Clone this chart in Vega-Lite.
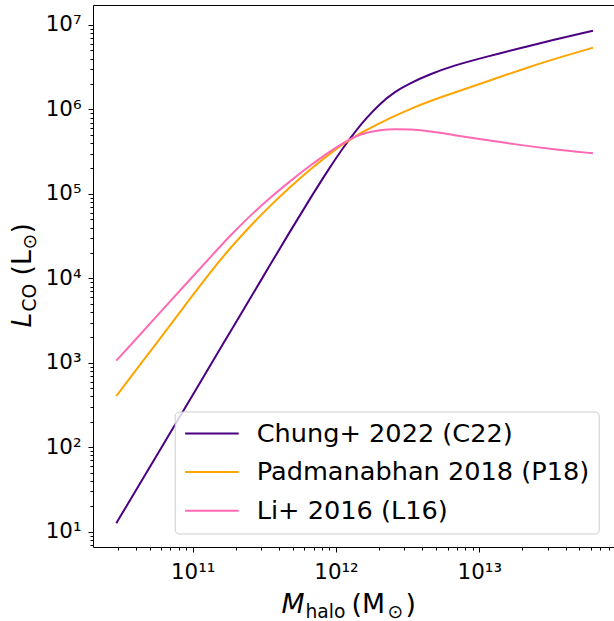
{
  "$schema": "https://vega.github.io/schema/vega-lite/v6.json",
  "width": 521,
  "height": 542,
  "autosize": {"type": "none"},
  "padding": {"left": 93, "top": 5, "right": 0, "bottom": 74},
  "background": "white",
  "resolve": {"axis": {"x": "independent", "y": "independent"}},
  "layer": [
    {
      "data": {
        "values": [
          {"model": "Chung+ 2022 (C22)", "M": 2.93e10, "L": 12.6},
          {"model": "Chung+ 2022 (C22)", "M": 4.287e10, "L": 37.2},
          {"model": "Chung+ 2022 (C22)", "M": 6.944e10, "L": 147.1},
          {"model": "Chung+ 2022 (C22)", "M": 9.576e10, "L": 367.7},
          {"model": "Chung+ 2022 (C22)", "M": 1.386e11, "L": 1056},
          {"model": "Chung+ 2022 (C22)", "M": 1.821e11, "L": 2297},
          {"model": "Chung+ 2022 (C22)", "M": 2.511e11, "L": 5741},
          {"model": "Chung+ 2022 (C22)", "M": 3.462e11, "L": 14353},
          {"model": "Chung+ 2022 (C22)", "M": 4.775e11, "L": 35870},
          {"model": "Chung+ 2022 (C22)", "M": 6.586e11, "L": 87750},
          {"model": "Chung+ 2022 (C22)", "M": 9.081e11, "L": 208200},
          {"model": "Chung+ 2022 (C22)", "M": 1.156e12, "L": 379300},
          {"model": "Chung+ 2022 (C22)", "M": 1.357e12, "L": 540800},
          {"model": "Chung+ 2022 (C22)", "M": 1.594e12, "L": 760300},
          {"model": "Chung+ 2022 (C22)", "M": 2.028e12, "L": 1176000},
          {"model": "Chung+ 2022 (C22)", "M": 2.58e12, "L": 1631000},
          {"model": "Chung+ 2022 (C22)", "M": 3.284e12, "L": 2046000},
          {"model": "Chung+ 2022 (C22)", "M": 4.529e12, "L": 2615000},
          {"model": "Chung+ 2022 (C22)", "M": 6.554e12, "L": 3296000},
          {"model": "Chung+ 2022 (C22)", "M": 1.114e13, "L": 4203000},
          {"model": "Chung+ 2022 (C22)", "M": 1.923e13, "L": 5312000},
          {"model": "Chung+ 2022 (C22)", "M": 3.268e13, "L": 6644000},
          {"model": "Chung+ 2022 (C22)", "M": 6.215e13, "L": 8560000},

          {"model": "Padmanabhan 2018 (P18)", "M": 2.93e10, "L": 404.5},
          {"model": "Padmanabhan 2018 (P18)", "M": 4.287e10, "L": 949.5},
          {"model": "Padmanabhan 2018 (P18)", "M": 6.944e10, "L": 2750},
          {"model": "Padmanabhan 2018 (P18)", "M": 9.576e10, "L": 5741},
          {"model": "Padmanabhan 2018 (P18)", "M": 1.386e11, "L": 13000},
          {"model": "Padmanabhan 2018 (P18)", "M": 1.821e11, "L": 22700},
          {"model": "Padmanabhan 2018 (P18)", "M": 2.511e11, "L": 41500},
          {"model": "Padmanabhan 2018 (P18)", "M": 3.462e11, "L": 72000},
          {"model": "Padmanabhan 2018 (P18)", "M": 4.775e11, "L": 120700},
          {"model": "Padmanabhan 2018 (P18)", "M": 6.586e11, "L": 194000},
          {"model": "Padmanabhan 2018 (P18)", "M": 9.081e11, "L": 300900},
          {"model": "Padmanabhan 2018 (P18)", "M": 1.156e12, "L": 402900},
          {"model": "Padmanabhan 2018 (P18)", "M": 1.357e12, "L": 478400},
          {"model": "Padmanabhan 2018 (P18)", "M": 1.594e12, "L": 563300},
          {"model": "Padmanabhan 2018 (P18)", "M": 2.028e12, "L": 691000},
          {"model": "Padmanabhan 2018 (P18)", "M": 2.58e12, "L": 838800},
          {"model": "Padmanabhan 2018 (P18)", "M": 3.284e12, "L": 1012000},
          {"model": "Padmanabhan 2018 (P18)", "M": 4.529e12, "L": 1259000},
          {"model": "Padmanabhan 2018 (P18)", "M": 6.554e12, "L": 1566000},
          {"model": "Padmanabhan 2018 (P18)", "M": 1.114e13, "L": 2122000},
          {"model": "Padmanabhan 2018 (P18)", "M": 1.923e13, "L": 2932000},
          {"model": "Padmanabhan 2018 (P18)", "M": 3.268e13, "L": 3925000},
          {"model": "Padmanabhan 2018 (P18)", "M": 6.215e13, "L": 5385000},

          {"model": "Li+ 2016 (L16)", "M": 2.93e10, "L": 1059},
          {"model": "Li+ 2016 (L16)", "M": 4.287e10, "L": 2157},
          {"model": "Li+ 2016 (L16)", "M": 6.944e10, "L": 5305},
          {"model": "Li+ 2016 (L16)", "M": 9.576e10, "L": 9692},
          {"model": "Li+ 2016 (L16)", "M": 1.386e11, "L": 19270},
          {"model": "Li+ 2016 (L16)", "M": 1.821e11, "L": 31900},
          {"model": "Li+ 2016 (L16)", "M": 2.511e11, "L": 55050},
          {"model": "Li+ 2016 (L16)", "M": 3.462e11, "L": 89900},
          {"model": "Li+ 2016 (L16)", "M": 4.775e11, "L": 141400},
          {"model": "Li+ 2016 (L16)", "M": 6.586e11, "L": 216400},
          {"model": "Li+ 2016 (L16)", "M": 9.081e11, "L": 320300},
          {"model": "Li+ 2016 (L16)", "M": 1.156e12, "L": 412800},
          {"model": "Li+ 2016 (L16)", "M": 1.357e12, "L": 475800},
          {"model": "Li+ 2016 (L16)", "M": 1.594e12, "L": 527800},
          {"model": "Li+ 2016 (L16)", "M": 2.028e12, "L": 572700},
          {"model": "Li+ 2016 (L16)", "M": 2.58e12, "L": 588400},
          {"model": "Li+ 2016 (L16)", "M": 3.284e12, "L": 580500},
          {"model": "Li+ 2016 (L16)", "M": 4.529e12, "L": 552800},
          {"model": "Li+ 2016 (L16)", "M": 6.554e12, "L": 498400},
          {"model": "Li+ 2016 (L16)", "M": 1.114e13, "L": 434800},
          {"model": "Li+ 2016 (L16)", "M": 1.923e13, "L": 379400},
          {"model": "Li+ 2016 (L16)", "M": 3.268e13, "L": 337500},
          {"model": "Li+ 2016 (L16)", "M": 6.215e13, "L": 302600}
        ]
      },
      "mark": {"type": "line", "strokeWidth": 2, "interpolate": "basis", "clip": true},
      "encoding": {
        "x": {
          "field": "M", "type": "quantitative",
          "scale": {"type": "log", "domain": [2.015e10, 8.71e13], "nice": false},
          "axis": {
            "orient": "bottom",
            "values": [1e11, 1e12, 1e13],
            "labelExpr": "datum.value >= 1e13 ? '10¹³' : datum.value >= 1e12 ? '10¹²' : '10¹¹'",
            "labelFontSize": 21.4, "labelBaseline": "alphabetic", "labelPadding": 26,
            "labelOverlap": false, "labelFlush": false, "labelBound": false,
            "tickSize": 5, "domain": true,
            "title": "M", "titleFontStyle": "italic", "titleFontSize": 26.7,
            "titleAlign": "left", "titleBaseline": "alphabetic", "titleAngle": 0,
            "titleX": 188, "titleY": 65
          }
        },
        "y": {
          "field": "L", "type": "quantitative",
          "scale": {"type": "log", "domain": [6.59, 1.725e7], "nice": false},
          "axis": {
            "orient": "left",
            "values": [10, 100, 1000, 10000, 100000, 1000000, 10000000],
            "labelExpr": "datum.value >= 1e7 ? '10⁷' : datum.value >= 1e6 ? '10⁶' : datum.value >= 1e5 ? '10⁵' : datum.value >= 1e4 ? '10⁴' : datum.value >= 1e3 ? '10³' : datum.value >= 1e2 ? '10²' : '10¹'",
            "labelFontSize": 21.4, "labelPadding": 7, "labelBaseline": "middle",
            "labelOverlap": false, "labelFlush": false, "labelBound": false,
            "tickSize": 5, "domain": true,
            "title": "L", "titleFontStyle": "italic", "titleFontSize": 26.7,
            "titleAlign": "left", "titleBaseline": "alphabetic", "titleAngle": 270,
            "titleX": -63, "titleY": 322
          }
        },
        "color": {
          "field": "model", "type": "nominal",
          "scale": {
            "domain": ["Chung+ 2022 (C22)", "Padmanabhan 2018 (P18)", "Li+ 2016 (L16)"],
            "range": ["#4b0082", "#ffa500", "#ff69b4"]
          },
          "legend": {
            "orient": "none", "legendX": 81.7, "legendY": 406.5,
            "title": null, "padding": 9, "rowPadding": 11.6,
            "strokeColor": "#cccccc", "fillColor": "rgba(255,255,255,0.8)", "cornerRadius": 4,
            "symbolType": "M-1,0H3.62", "symbolSize": 538, "symbolStrokeWidth": 2,
            "symbolFillColor": "transparent",
            "labelFontSize": 25.6, "labelFont": "DejaVu Sans", "labelColor": "#000",
            "labelOffset": 47, "labelLimit": 0
          }
        }
      }
    },
    {
      "data": {"values": []},
      "mark": {"type": "point"},
      "encoding": {
        "x": {
          "field": "M", "type": "quantitative", "scale": {"type": "log"},
          "axis": {
            "orient": "bottom",
            "values": [3e10, 4e10, 5e10, 6e10, 7e10, 8e10, 9e10, 2e11, 3e11, 4e11, 5e11, 6e11, 7e11, 8e11, 9e11, 2e12, 3e12, 4e12, 5e12, 6e12, 7e12, 8e12, 9e12, 2e13, 3e13, 4e13, 5e13, 6e13, 7e13, 8e13],
            "labels": false, "domain": false, "tickSize": 3,
            "title": "halo", "titleFontSize": 18.7,
            "titleAlign": "left", "titleBaseline": "alphabetic", "titleAngle": 0,
            "titleX": 212, "titleY": 70
          }
        },
        "y": {
          "field": "L", "type": "quantitative", "scale": {"type": "log"},
          "axis": {
            "orient": "left",
            "values": [7, 8, 9, 20, 30, 40, 50, 60, 70, 80, 90, 200, 300, 400, 500, 600, 700, 800, 900, 2000, 3000, 4000, 5000, 6000, 7000, 8000, 9000, 20000, 30000, 40000, 50000, 60000, 70000, 80000, 90000, 200000, 300000, 400000, 500000, 600000, 700000, 800000, 900000, 2000000, 3000000, 4000000, 5000000, 6000000, 7000000, 8000000, 9000000],
            "labels": false, "domain": false, "tickSize": 3,
            "title": "CO", "titleFontSize": 18.7,
            "titleAlign": "left", "titleBaseline": "alphabetic", "titleAngle": 270,
            "titleX": -58, "titleY": 306
          }
        }
      }
    },
    {
      "data": {"values": []},
      "mark": {"type": "point"},
      "encoding": {
        "x": {
          "field": "M", "type": "quantitative", "scale": {"type": "log"},
          "axis": {
            "orient": "bottom", "values": [], "labels": false, "ticks": false, "domain": false,
            "title": "(M", "titleFontSize": 26.7,
            "titleAlign": "left", "titleBaseline": "alphabetic", "titleAngle": 0,
            "titleX": 258, "titleY": 65
          }
        },
        "y": {
          "field": "L", "type": "quantitative", "scale": {"type": "log"},
          "axis": {
            "orient": "left", "values": [], "labels": false, "ticks": false, "domain": false,
            "title": "(L", "titleFontSize": 26.7,
            "titleAlign": "left", "titleBaseline": "alphabetic", "titleAngle": 270,
            "titleX": -63, "titleY": 270
          }
        }
      }
    },
    {
      "data": {"values": []},
      "mark": {"type": "point"},
      "encoding": {
        "x": {
          "field": "M", "type": "quantitative", "scale": {"type": "log"},
          "axis": {
            "orient": "bottom", "values": [], "labels": false, "ticks": false, "domain": false,
            "title": "⊙", "titleFontSize": 18.7,
            "titleAlign": "left", "titleBaseline": "alphabetic", "titleAngle": 0,
            "titleX": 294, "titleY": 70
          }
        },
        "y": {
          "field": "L", "type": "quantitative", "scale": {"type": "log"},
          "axis": {
            "orient": "left", "values": [], "labels": false, "ticks": false, "domain": false,
            "title": "⊙", "titleFontSize": 18.7,
            "titleAlign": "left", "titleBaseline": "alphabetic", "titleAngle": 270,
            "titleX": -58, "titleY": 244
          }
        }
      }
    },
    {
      "data": {"values": []},
      "mark": {"type": "point"},
      "encoding": {
        "x": {
          "field": "M", "type": "quantitative", "scale": {"type": "log"},
          "axis": {
            "orient": "bottom", "values": [], "labels": false, "ticks": false, "domain": false,
            "title": ")", "titleFontSize": 26.7,
            "titleAlign": "left", "titleBaseline": "alphabetic", "titleAngle": 0,
            "titleX": 312, "titleY": 65
          }
        },
        "y": {
          "field": "L", "type": "quantitative", "scale": {"type": "log"},
          "axis": {
            "orient": "left", "values": [], "labels": false, "ticks": false, "domain": false,
            "title": ")", "titleFontSize": 26.7,
            "titleAlign": "left", "titleBaseline": "alphabetic", "titleAngle": 270,
            "titleX": -63, "titleY": 228
          }
        }
      }
    },
    {
      "data": {"values": []},
      "mark": {"type": "point"},
      "encoding": {
        "x": {
          "field": "M", "type": "quantitative", "scale": {"type": "log"},
          "axis": {
            "orient": "top", "values": [], "labels": false, "ticks": false, "domain": true, "title": null
          }
        }
      }
    }
  ],
  "config": {
    "view": {"stroke": null},
    "font": "DejaVu Sans",
    "axis": {
      "grid": false,
      "domainColor": "#000000", "domainWidth": 1,
      "tickColor": "#000000", "tickWidth": 1,
      "labelColor": "#000000", "titleColor": "#000000",
      "labelFont": "DejaVu Sans", "titleFont": "DejaVu Sans",
      "titleFontWeight": "normal"
    }
  }
}
